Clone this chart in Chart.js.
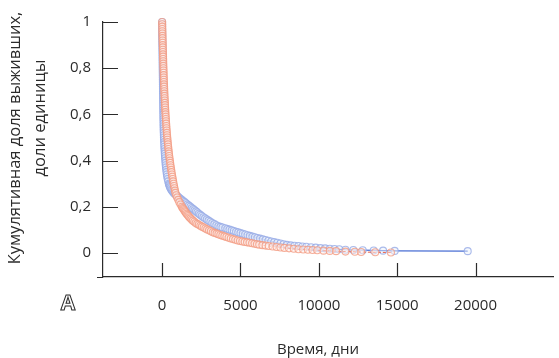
<!DOCTYPE html>
<html>
<head>
<meta charset="utf-8">
<script src="https://cdn.jsdelivr.net/npm/chart.js@4/dist/chart.umd.min.js"></script>
<style>
  html, body { margin: 0; padding: 0; background: #fff; }
  #wrap { width: 559px; height: 358px; position: relative; }
</style>
</head>
<body>
<div id="wrap"><canvas id="chart"></canvas></div>
<script>
// survival curves: [days, surviving fraction]
const redSeries = [
  [0, 1], [4, 0.99], [7, 0.98], [11, 0.97], [14, 0.96], [18, 0.95], [22, 0.94], [25, 0.93], [29, 0.92], [33, 0.91],
  [37, 0.9], [42, 0.89], [46, 0.88], [50, 0.87], [55, 0.86], [60, 0.85], [65, 0.84], [70, 0.83], [74, 0.82], [79, 0.81],
  [84, 0.8], [89, 0.79], [94, 0.78], [99, 0.77], [104, 0.76], [108, 0.75], [114, 0.74], [120, 0.73], [126, 0.72], [132, 0.71],
  [138, 0.7], [145, 0.69], [152, 0.68], [160, 0.67], [167, 0.66], [174, 0.65], [182, 0.64], [191, 0.63], [199, 0.62], [208, 0.61],
  [217, 0.6], [227, 0.59], [236, 0.58], [246, 0.57], [257, 0.56], [268, 0.55], [278, 0.54], [290, 0.53], [302, 0.52], [314, 0.51],
  [328, 0.5], [341, 0.49], [355, 0.48], [370, 0.47], [385, 0.46], [401, 0.45], [418, 0.44], [434, 0.43], [452, 0.42], [472, 0.41],
  [492, 0.4], [512, 0.39], [533, 0.38], [555, 0.37], [578, 0.36], [601, 0.35], [625, 0.34], [650, 0.33], [676, 0.32], [703, 0.31],
  [730, 0.3], [758, 0.29], [788, 0.28], [818, 0.27], [850, 0.26], [900, 0.25], [960, 0.24], [1030, 0.23], [1100, 0.22], [1180, 0.21],
  [1260, 0.2], [1310, 0.195], [1360, 0.19], [1410, 0.185], [1460, 0.18], [1510, 0.175], [1560, 0.17], [1620, 0.165], [1680, 0.16], [1740, 0.155],
  [1810, 0.15], [1880, 0.145], [1960, 0.14], [2050, 0.135], [2140, 0.13], [2240, 0.126], [2340, 0.122], [2440, 0.118], [2540, 0.114], [2650, 0.11],
  [2760, 0.106], [2870, 0.102], [2990, 0.098], [3110, 0.094], [3230, 0.09], [3350, 0.087], [3470, 0.084], [3590, 0.081], [3710, 0.078], [3840, 0.075],
  [3970, 0.072], [4100, 0.069], [4240, 0.066], [4380, 0.063], [4520, 0.06], [4670, 0.057], [4820, 0.054], [4970, 0.052], [5120, 0.05], [5270, 0.048],
  [5420, 0.046], [5580, 0.044], [5740, 0.042], [5900, 0.04], [6050, 0.038], [6200, 0.036], [6400, 0.034], [6600, 0.032], [6800, 0.03], [7050, 0.028],
  [7300, 0.026], [7550, 0.024], [7800, 0.022], [8100, 0.02], [8400, 0.018], [8700, 0.016], [9000, 0.015], [9300, 0.014], [9600, 0.013], [9900, 0.012],
  [10300, 0.01], [10700, 0.009], [11100, 0.008], [11700, 0.006], [12300, 0.005], [12700, 0.004], [13600, 0.003], [14600, 0.002],
];

const blueSeries = [
  [0, 1], [1, 0.99], [2, 0.98], [3, 0.97], [5, 0.96], [6, 0.95], [8, 0.94], [9, 0.93], [11, 0.92], [13, 0.91],
  [15, 0.9], [17, 0.89], [19, 0.88], [21, 0.87], [23, 0.86], [25, 0.85], [27, 0.84], [29, 0.83], [31, 0.82], [33, 0.81],
  [35, 0.8], [37, 0.79], [39, 0.78], [41, 0.77], [43, 0.76], [45, 0.75], [47, 0.74], [49, 0.73], [51, 0.72], [53, 0.71],
  [55, 0.7], [57, 0.69], [59, 0.68], [61, 0.67], [63, 0.66], [65, 0.65], [67, 0.64], [69, 0.63], [72, 0.62], [74, 0.61],
  [76, 0.6], [79, 0.59], [81, 0.58], [84, 0.57], [87, 0.56], [90, 0.55], [94, 0.54], [98, 0.53], [103, 0.52], [109, 0.51],
  [115, 0.5], [121, 0.49], [128, 0.48], [135, 0.47], [143, 0.46], [151, 0.45], [160, 0.44], [170, 0.43], [180, 0.42], [191, 0.41],
  [203, 0.4], [216, 0.39], [230, 0.38], [246, 0.37], [263, 0.36], [282, 0.35], [303, 0.34], [327, 0.33], [355, 0.32], [388, 0.31],
  [428, 0.3], [452, 0.295], [478, 0.29], [508, 0.285], [542, 0.28], [580, 0.275], [625, 0.27], [680, 0.265], [745, 0.26], [820, 0.255],
  [900, 0.25], [985, 0.245], [1070, 0.24], [1160, 0.235], [1250, 0.23], [1340, 0.225], [1430, 0.22], [1520, 0.215], [1610, 0.21], [1705, 0.205],
  [1800, 0.2], [1890, 0.195], [1980, 0.19], [2070, 0.185], [2160, 0.18], [2250, 0.175], [2340, 0.17], [2430, 0.165], [2530, 0.16], [2630, 0.155],
  [2740, 0.15], [2850, 0.145], [2960, 0.14], [3080, 0.135], [3200, 0.13], [3330, 0.125], [3460, 0.12], [3590, 0.116], [3720, 0.113], [3850, 0.11],
  [4030, 0.107], [4160, 0.104], [4300, 0.101], [4440, 0.098], [4580, 0.095], [4720, 0.092], [4860, 0.089], [5000, 0.086], [5150, 0.083], [5300, 0.08],
  [5450, 0.077], [5600, 0.074], [5760, 0.071], [5920, 0.068], [6080, 0.065], [6250, 0.062], [6420, 0.059], [6600, 0.056], [6780, 0.053], [6960, 0.05],
  [7150, 0.047], [7350, 0.044], [7550, 0.041], [7750, 0.038], [7960, 0.035], [8200, 0.033], [8450, 0.031], [8700, 0.03], [8950, 0.028], [9200, 0.027],
  [9500, 0.025], [9800, 0.023], [10100, 0.021], [10400, 0.02], [10700, 0.018], [11000, 0.017], [11300, 0.016], [11700, 0.014], [12200, 0.013], [12800, 0.012],
  [13500, 0.011], [14100, 0.01], [14840, 0.009], [19500, 0.008],
];

const xTicks = [0, 5000, 10000, 15000, 20000];
const yTicks = [0, 0.2, 0.4, 0.6, 0.8, 1];
const yTitle = ["Кумулятивная доля выживших,", "доли единицы"];
const xTitle = "Время, дни";
const panelLabel = "A";

const FONT = "'Open Sans', 'Noto Sans', sans-serif";
const INK = "#2b2b2b";

const toPoints = (pairs) => pairs.map(([x, y]) => ({ x, y }));

// inward tick marks, titles and the panel letter
const decor = {
  id: "decor",
  afterDraw(chart) {
    const { ctx, chartArea, scales } = chart;
    ctx.save();
    ctx.strokeStyle = INK;
    ctx.lineWidth = 1.2;
    ctx.beginPath();
    yTicks.forEach((v) => {
      const py = Math.round(scales.y.getPixelForValue(v)) + 0.5;
      ctx.moveTo(chartArea.left, py);
      ctx.lineTo(chartArea.left + 15, py);
    });
    xTicks.forEach((v) => {
      const px = Math.round(scales.x.getPixelForValue(v)) + 0.5;
      ctx.moveTo(px, chartArea.bottom);
      ctx.lineTo(px, chartArea.bottom - 14);
    });
    // x axis runs a little past the y axis
    ctx.moveTo(chartArea.left - 6, chartArea.bottom + 0.5);
    ctx.lineTo(chartArea.left, chartArea.bottom + 0.5);
    ctx.stroke();

    ctx.fillStyle = INK;
    ctx.font = "15px " + FONT;
    ctx.textAlign = "center";
    ctx.textBaseline = "middle";
    ctx.fillText(xTitle, 318, 350);

    ctx.font = "16.5px " + FONT;
    ctx.save();
    ctx.translate(15, 138);
    ctx.rotate(-Math.PI / 2);
    ctx.fillText(yTitle[0], 0, 0);
    ctx.restore();
    ctx.save();
    ctx.translate(40, 118);
    ctx.rotate(-Math.PI / 2);
    ctx.fillText(yTitle[1], 0, 0);
    ctx.restore();

    ctx.font = "bold 21px " + FONT;
    ctx.fillStyle = "#fff";
    ctx.lineWidth = 1;
    ctx.fillText(panelLabel, 68, 304);
    ctx.strokeText(panelLabel, 68, 304);
    ctx.restore();
  },
};

new Chart(document.getElementById("chart"), {
  type: "scatter",
  data: {
    datasets: [
      {
        data: toPoints(redSeries),
        showLine: true,
        clip: false,
        borderColor: "#e8604a",
        borderWidth: 1,
        borderDash: [3, 2],
        pointRadius: 3.5,
        pointBorderWidth: 1.1,
        pointBorderColor: "rgba(243, 155, 130, 0.8)",
        pointBackgroundColor: "rgba(255, 240, 235, 0.5)",
      },
      {
        data: toPoints(blueSeries),
        showLine: true,
        clip: false,
        borderColor: "#4a6fd4",
        borderWidth: 1.2,
        pointRadius: 3.5,
        pointBorderWidth: 1.1,
        pointBorderColor: "rgba(150, 170, 230, 0.8)",
        pointBackgroundColor: "rgba(236, 241, 252, 0.5)",
      },
    ],
  },
  options: {
    animation: false,
    responsive: true,
    maintainAspectRatio: false,
    layout: { padding: { top: 22, right: 0, left: 0, bottom: 0 } },
    plugins: {
      legend: { display: false },
      tooltip: { enabled: false },
    },
    scales: {
      x: {
        type: "linear",
        min: -3774,
        max: 25000,
        afterBuildTicks: (scale) => {
          scale.ticks = xTicks.map((value) => ({ value }));
        },
        afterFit: (scale) => {
          scale.height = 81;
        },
        grid: { display: false, drawTicks: false },
        border: { display: true, color: INK, width: 1.2 },
        ticks: {
          color: INK,
          padding: 20,
          font: { family: FONT, size: 15 },
          callback: (v) => String(v),
        },
      },
      y: {
        type: "linear",
        min: -0.104,
        max: 1,
        afterBuildTicks: (scale) => {
          scale.ticks = yTicks.map((value) => ({ value }));
        },
        afterFit: (scale) => {
          scale.width = 103;
        },
        grid: { display: false, drawTicks: false },
        border: { display: true, color: INK, width: 1.2 },
        ticks: {
          color: INK,
          padding: 12,
          font: { family: FONT, size: 15 },
          callback: (v) => String(v).replace(".", ","),
        },
      },
    },
  },
  plugins: [decor],
});
</script>
</body>
</html>
